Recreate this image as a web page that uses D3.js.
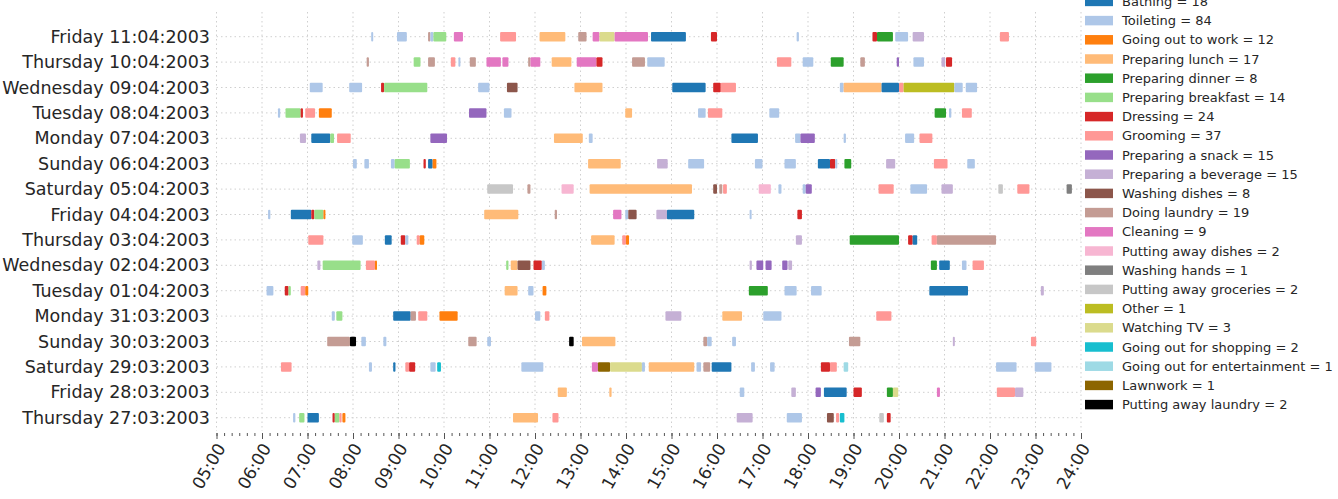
<!DOCTYPE html>
<html>
<head>
<meta charset="utf-8">
<script src="https://cdn.jsdelivr.net/npm/d3@7"></script>
<style>
  body { margin: 0; background: #fff; }
  #chart text { font-family: "DejaVu Sans", sans-serif; fill: #262626; }
</style>
</head>
<body>
<div id="chart"></div>
<script>
// rows, top to bottom
var days = ["Friday 11:04:2003", "Thursday 10:04:2003", "Wednesday 09:04:2003", "Tuesday 08:04:2003",
  "Monday 07:04:2003", "Sunday 06:04:2003", "Saturday 05:04:2003", "Friday 04:04:2003",
  "Thursday 03:04:2003", "Wednesday 02:04:2003", "Tuesday 01:04:2003", "Monday 31:03:2003",
  "Sunday 30:03:2003", "Saturday 29:03:2003", "Friday 28:03:2003", "Thursday 27:03:2003"]

var activities = ["Bathing", "Toileting", "Going out to work", "Preparing lunch", "Preparing dinner",
  "Preparing breakfast", "Dressing", "Grooming", "Preparing a snack", "Preparing a beverage",
  "Washing dishes", "Doing laundry", "Cleaning", "Putting away dishes", "Washing hands",
  "Putting away groceries", "Other", "Watching TV", "Going out for shopping",
  "Going out for entertainment", "Lawnwork", "Putting away laundry"]
var counts = [18, 84, 12, 17, 8, 14, 24, 37, 15, 15, 8, 19, 9, 2, 1, 2, 1, 3, 2, 1, 1, 2]
var colours = ["#1f77b4", "#aec7e8", "#ff7f0e", "#ffbb78", "#2ca02c", "#98df8a", "#d62728", "#ff9896",
  "#9467bd", "#c5b0d5", "#8c564b", "#c49c94", "#e377c2", "#f7b6d2", "#7f7f7f", "#c7c7c7",
  "#bcbd22", "#dbdb8d", "#17becf", "#9edae5", "#8c6500", "#000000"]

var hours = d3.range(5, 25)

// [day row, start, end, activity]
var events = [
  [0,"08:24","08:26","Toileting"],[0,"08:58","09:11","Toileting"],[0,"09:39","09:42","Doing laundry"],
  [0,"09:42","09:46","Toileting"],[0,"09:46","10:03","Preparing breakfast"],[0,"10:13","10:25","Cleaning"],
  [0,"11:14","11:35","Grooming"],[0,"12:06","12:40","Preparing lunch"],[0,"12:57","13:08","Doing laundry"],
  [0,"13:16","13:25","Cleaning"],[0,"13:25","13:45","Watching TV"],[0,"13:45","14:29","Cleaning"],
  [0,"14:33","15:19","Bathing"],[0,"15:52","16:00","Dressing"],[0,"17:45","17:48","Toileting"],
  [0,"19:25","19:31","Dressing"],[0,"19:31","19:52","Preparing dinner"],[0,"19:55","20:12","Toileting"],
  [0,"20:18","20:33","Preparing a beverage"],[0,"22:13","22:25","Grooming"],

  [1,"08:18","08:21","Doing laundry"],[1,"09:20","09:29","Preparing breakfast"],[1,"09:39","09:48","Doing laundry"],
  [1,"10:09","10:15","Grooming"],[1,"10:19","10:21","Toileting"],[1,"10:34","10:42","Doing laundry"],
  [1,"10:56","11:15","Cleaning"],[1,"11:17","11:25","Cleaning"],[1,"11:51","11:54","Doing laundry"],
  [1,"11:54","12:07","Cleaning"],[1,"12:22","12:48","Preparing lunch"],[1,"12:55","13:21","Cleaning"],
  [1,"13:21","13:29","Dressing"],[1,"14:08","14:25","Doing laundry"],[1,"14:28","14:51","Toileting"],
  [1,"17:19","17:38","Grooming"],[1,"17:53","18:07","Toileting"],[1,"18:30","18:47","Preparing dinner"],
  [1,"19:09","19:15","Doing laundry"],[1,"19:57","20:00","Preparing a snack"],[1,"20:19","20:33","Toileting"],
  [1,"20:56","21:01","Preparing a beverage"],[1,"21:02","21:10","Dressing"],

  [2,"07:03","07:20","Toileting"],[2,"07:55","08:12","Toileting"],[2,"08:37","08:41","Dressing"],
  [2,"08:41","09:38","Preparing breakfast"],[2,"10:45","11:00","Toileting"],[2,"11:23","11:37","Washing dishes"],
  [2,"12:52","13:29","Preparing lunch"],[2,"15:01","15:45","Bathing"],[2,"15:55","16:05","Dressing"],
  [2,"16:05","16:25","Grooming"],[2,"18:42","18:47","Toileting"],[2,"18:47","19:37","Preparing lunch"],
  [2,"19:37","20:00","Bathing"],[2,"20:00","20:06","Grooming"],[2,"20:06","21:13","Other"],
  [2,"21:13","21:24","Toileting"],[2,"21:28","21:43","Toileting"],

  [3,"06:21","06:24","Toileting"],[3,"06:31","06:51","Preparing breakfast"],[3,"06:51","06:54","Dressing"],
  [3,"06:57","07:10","Grooming"],[3,"07:15","07:32","Going out to work"],[3,"10:33","10:56","Preparing a snack"],
  [3,"11:19","11:29","Toileting"],[3,"13:59","14:08","Preparing lunch"],[3,"15:35","15:45","Toileting"],
  [3,"15:48","16:07","Grooming"],[3,"17:09","17:22","Toileting"],[3,"20:47","21:02","Preparing dinner"],
  [3,"21:06","21:09","Toileting"],[3,"21:23","21:36","Grooming"],

  [4,"06:50","06:58","Preparing a beverage"],[4,"07:05","07:30","Bathing"],[4,"07:30","07:35","Preparing breakfast"],
  [4,"07:39","07:57","Grooming"],[4,"09:42","10:04","Preparing a snack"],[4,"12:25","13:03","Preparing lunch"],
  [4,"13:11","13:16","Toileting"],[4,"16:19","16:54","Bathing"],[4,"17:43","17:50","Toileting"],
  [4,"17:50","18:09","Preparing a snack"],[4,"18:47","18:50","Toileting"],[4,"20:08","20:20","Toileting"],
  [4,"20:27","20:44","Grooming"],

  [5,"08:00","08:05","Toileting"],[5,"08:15","08:21","Toileting"],[5,"08:50","08:55","Toileting"],
  [5,"08:55","09:15","Preparing breakfast"],[5,"09:33","09:36","Dressing"],[5,"09:39","09:45","Bathing"],
  [5,"09:45","09:50","Going out to work"],[5,"13:10","13:53","Preparing lunch"],[5,"14:41","14:55","Preparing a beverage"],
  [5,"15:22","15:43","Toileting"],[5,"16:50","17:00","Toileting"],[5,"17:29","17:44","Toileting"],
  [5,"18:13","18:29","Bathing"],[5,"18:29","18:36","Dressing"],[5,"18:36","18:38","Toileting"],
  [5,"18:48","18:57","Preparing dinner"],[5,"19:43","19:55","Preparing a beverage"],[5,"20:46","21:04","Grooming"],
  [5,"21:30","21:40","Toileting"],

  [6,"10:57","11:31","Putting away groceries"],[6,"11:50","11:54","Doing laundry"],[6,"12:35","12:51","Putting away dishes"],
  [6,"13:12","15:27","Preparing lunch"],[6,"15:55","16:00","Washing dishes"],[6,"16:03","16:07","Doing laundry"],
  [6,"16:08","16:13","Grooming"],[6,"16:55","17:11","Putting away dishes"],[6,"17:21","17:25","Toileting"],
  [6,"17:53","17:57","Toileting"],[6,"17:57","18:05","Preparing a snack"],[6,"19:33","19:53","Grooming"],
  [6,"20:15","20:37","Toileting"],[6,"20:56","21:11","Preparing a beverage"],[6,"22:11","22:17","Putting away groceries"],
  [6,"22:36","22:52","Grooming"],[6,"23:41","23:48","Washing hands"],

  [7,"06:08","06:11","Toileting"],[7,"06:38","07:05","Bathing"],[7,"07:05","07:09","Dressing"],
  [7,"07:09","07:21","Preparing breakfast"],[7,"07:21","07:23","Going out to work"],[7,"10:53","11:38","Preparing lunch"],
  [7,"12:26","12:29","Doing laundry"],[7,"13:43","13:54","Cleaning"],[7,"13:59","14:03","Toileting"],
  [7,"14:03","14:14","Washing dishes"],[7,"14:40","14:54","Preparing a beverage"],[7,"14:54","15:30","Bathing"],
  [7,"16:43","16:45","Toileting"],[7,"17:46","17:52","Dressing"],

  [8,"07:01","07:21","Grooming"],[8,"07:59","08:13","Toileting"],[8,"08:42","08:51","Bathing"],
  [8,"09:03","09:09","Dressing"],[8,"09:09","09:13","Toileting"],[8,"09:24","09:28","Grooming"],
  [8,"09:28","09:34","Going out to work"],[8,"13:14","13:45","Preparing lunch"],[8,"13:55","14:00","Grooming"],
  [8,"14:00","14:04","Going out to work"],[8,"17:44","17:52","Preparing a beverage"],[8,"18:55","20:00","Preparing dinner"],
  [8,"20:12","20:18","Dressing"],[8,"20:18","20:24","Bathing"],[8,"20:43","20:50","Grooming"],
  [8,"20:50","22:08","Doing laundry"],

  [9,"07:13","07:17","Preparing a beverage"],[9,"07:20","08:10","Preparing breakfast"],[9,"08:17","08:29","Grooming"],
  [9,"08:29","08:31","Going out to work"],[9,"11:22","11:25","Preparing breakfast"],[9,"11:28","11:37","Preparing lunch"],
  [9,"11:37","11:54","Washing dishes"],[9,"11:58","12:09","Dressing"],[9,"12:09","12:13","Toileting"],
  [9,"16:43","16:46","Preparing a beverage"],[9,"16:52","17:01","Preparing a snack"],[9,"17:04","17:12","Preparing a snack"],
  [9,"17:26","17:33","Preparing a snack"],[9,"17:34","17:39","Preparing a beverage"],[9,"20:42","20:50","Preparing dinner"],
  [9,"20:53","21:07","Bathing"],[9,"21:23","21:29","Toileting"],[9,"21:37","21:52","Grooming"],

  [10,"06:06","06:15","Toileting"],[10,"06:30","06:35","Dressing"],[10,"06:35","06:38","Preparing breakfast"],
  [10,"06:51","06:57","Grooming"],[10,"06:57","07:01","Going out to work"],[10,"11:20","11:37","Preparing lunch"],
  [10,"11:51","11:58","Toileting"],[10,"12:10","12:15","Going out to work"],[10,"16:42","17:07","Preparing dinner"],
  [10,"17:29","17:45","Toileting"],[10,"18:04","18:18","Toileting"],[10,"20:40","21:31","Bathing"],
  [10,"23:07","23:11","Preparing a beverage"],

  [11,"07:32","07:36","Toileting"],[11,"07:38","07:46","Preparing breakfast"],[11,"08:53","09:16","Bathing"],
  [11,"09:16","09:23","Doing laundry"],[11,"09:26","09:38","Grooming"],[11,"09:54","10:18","Going out to work"],
  [11,"12:00","12:07","Toileting"],[11,"12:13","12:19","Grooming"],[11,"14:52","15:13","Preparing a beverage"],
  [11,"16:07","16:33","Preparing lunch"],[11,"17:01","17:25","Toileting"],[11,"19:30","19:50","Grooming"],

  [12,"07:26","07:56","Doing laundry"],[12,"07:56","08:04","Putting away laundry"],[12,"08:11","08:17","Toileting"],
  [12,"08:40","08:44","Toileting"],[12,"10:32","10:43","Doing laundry"],[12,"10:57","11:02","Toileting"],
  [12,"12:45","12:51","Putting away laundry"],[12,"13:02","13:46","Preparing lunch"],[12,"15:42","15:47","Doing laundry"],
  [12,"15:47","15:53","Toileting"],[12,"16:20","16:25","Toileting"],[12,"18:54","19:09","Doing laundry"],
  [12,"21:11","21:13","Preparing a beverage"],[12,"22:54","23:01","Grooming"],

  [13,"06:25","06:39","Grooming"],[13,"08:21","08:25","Toileting"],[13,"08:53","08:56","Bathing"],
  [13,"09:09","09:14","Grooming"],[13,"09:14","09:22","Dressing"],[13,"09:42","09:49","Toileting"],
  [13,"09:51","09:56","Going out for shopping"],[13,"11:42","12:11","Toileting"],[13,"13:15","13:23","Cleaning"],
  [13,"13:23","13:39","Lawnwork"],[13,"13:39","14:21","Watching TV"],[13,"14:21","14:25","Toileting"],
  [13,"14:30","15:30","Preparing lunch"],[13,"15:33","15:39","Toileting"],[13,"15:42","15:51","Doing laundry"],
  [13,"15:53","16:19","Bathing"],[13,"16:45","16:50","Toileting"],[13,"17:10","17:16","Toileting"],
  [13,"18:17","18:29","Dressing"],[13,"18:29","18:38","Grooming"],[13,"18:47","18:53","Going out for entertainment"],
  [13,"22:08","22:35","Toileting"],[13,"22:59","23:21","Toileting"],

  [14,"12:30","12:42","Preparing lunch"],[14,"13:38","13:41","Preparing lunch"],[14,"16:30","16:36","Toileting"],
  [14,"17:38","17:44","Preparing a beverage"],[14,"18:10","18:17","Preparing a snack"],[14,"18:21","18:51","Bathing"],
  [14,"19:00","19:11","Dressing"],[14,"19:44","19:52","Preparing dinner"],[14,"19:52","19:59","Watching TV"],
  [14,"20:50","20:54","Cleaning"],[14,"22:09","22:33","Grooming"],[14,"22:33","22:44","Preparing a beverage"],

  [15,"06:41","06:44","Toileting"],[15,"06:49","06:56","Preparing breakfast"],[15,"07:00","07:15","Bathing"],
  [15,"07:33","07:36","Dressing"],[15,"07:36","07:42","Preparing breakfast"],[15,"07:42","07:45","Grooming"],
  [15,"07:46","07:50","Going out to work"],[15,"11:31","12:04","Preparing lunch"],[15,"12:23","12:31","Grooming"],
  [15,"16:26","16:47","Preparing a beverage"],[15,"17:32","17:52","Toileting"],[15,"18:25","18:34","Washing dishes"],
  [15,"18:37","18:41","Grooming"],[15,"18:42","18:48","Going out for shopping"],[15,"19:34","19:40","Putting away groceries"],
  [15,"19:44","19:49","Dressing"]
]

var width = 1338,
  height = 499

var svg = d3.select("#chart")
  .append("svg")
  .attr("width", width)
  .attr("height", height)

function toHours(s) {
  var p = s.split(":")
  return +p[0] + p[1] / 60
}

var x = d3.scaleLinear().domain([5, 24]).range([216.5, 1081])
var y = d3.scalePoint().domain(days).range([36.7, 417.7])
var colour = d3.scaleOrdinal().domain(activities).range(colours)

var plotTop = 12, plotBottom = 431

// dotted grid
svg.append("g")
  .selectAll("line")
  .data(hours)
  .enter().append("line")
  .attr("x1", function(d) { return x(d) })
  .attr("x2", function(d) { return x(d) })
  .attr("y1", plotTop)
  .attr("y2", plotBottom)
  .attr("stroke", "#cfcfcf")
  .attr("stroke-dasharray", "1.5,3")

svg.append("g")
  .selectAll("line")
  .data(days)
  .enter().append("line")
  .attr("x1", x(5))
  .attr("x2", x(24))
  .attr("y1", function(d) { return y(d) })
  .attr("y2", function(d) { return y(d) })
  .attr("stroke", "#cfcfcf")
  .attr("stroke-dasharray", "1.5,3")

// activity bars
var barH = 9.5
svg.append("g")
  .selectAll("rect")
  .data(events)
  .enter().append("rect")
  .attr("x", function(d) { return x(toHours(d[1])) })
  .attr("width", function(d) { return Math.max(2, x(toHours(d[2])) - x(toHours(d[1]))) })
  .attr("y", function(d) { return y(days[d[0]]) - barH / 2 })
  .attr("height", barH)
  .attr("rx", 1)
  .attr("fill", function(d) { return colour(d[3]) })

// y labels
svg.append("g")
  .selectAll("text")
  .data(days)
  .enter().append("text")
  .attr("x", 210)
  .attr("y", function(d) { return y(d) })
  .attr("dy", "0.35em")
  .attr("text-anchor", "end")
  .style("font-size", "17.5px")
  .text(function(d) { return d })

// x axis: minor + major ticks, rotated labels
var xAxis = svg.append("g")
  .attr("transform", "translate(0," + (plotBottom + 2) + ")")
xAxis.call(d3.axisBottom(x)
  .tickValues(d3.range(5, 24.01, 1 / 6))
  .tickSize(3)
  .tickFormat(""))
xAxis.select(".domain").remove()
xAxis.selectAll("line").attr("stroke", "#555")

var xMajor = svg.append("g")
  .attr("transform", "translate(0," + (plotBottom + 2) + ")")
xMajor.call(d3.axisBottom(x)
  .tickValues(hours)
  .tickSize(6)
  .tickFormat(function(d) { return d3.format("02d")(d) + ":00" }))
xMajor.select(".domain").remove()
xMajor.selectAll("line").attr("stroke", "#555")
xMajor.selectAll("text")
  .style("font-size", "17px")
  .attr("text-anchor", "end")
  .attr("dy", "0.35em")
  .attr("transform", "translate(4,12) rotate(-60)")
  .attr("x", 0)
  .attr("y", 0)

// legend
var legend = svg.append("g")
  .selectAll("g")
  .data(activities)
  .enter().append("g")
  .attr("transform", function(d, i) { return "translate(1085," + (1.4 + i * 19.2) + ")" })

legend.append("rect")
  .attr("x", 0)
  .attr("y", -4.75)
  .attr("width", 28)
  .attr("height", 9.5)
  .attr("fill", function(d) { return colour(d) })

legend.append("text")
  .attr("x", 37)
  .attr("dy", "0.35em")
  .style("font-size", "13px")
  .text(function(d, i) { return d + " = " + counts[i] })
</script>
</body>
</html>
